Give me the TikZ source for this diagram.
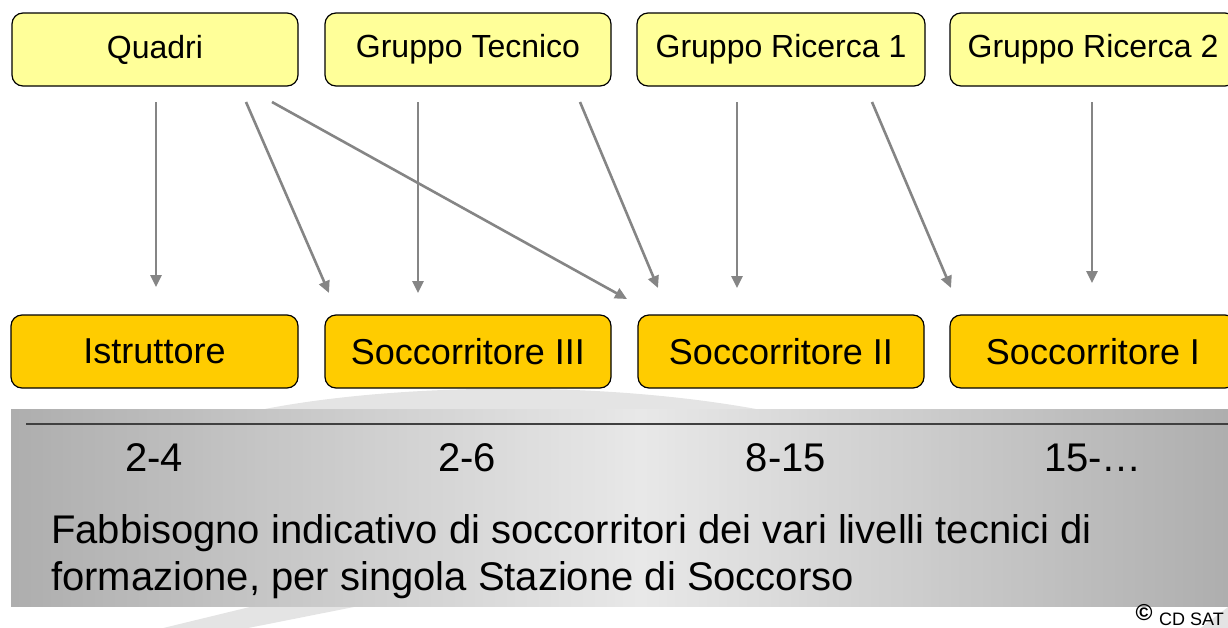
\documentclass[tikz,border=0pt]{standalone}
\usepackage{fontspec}
\setmainfont{Liberation Sans}
\usetikzlibrary{arrows.meta,calc}
\definecolor{topfill}{HTML}{FFFF99}
\definecolor{botfill}{HTML}{FFCC00}
\definecolor{arrgray}{HTML}{858585}
\definecolor{swoosh}{HTML}{E4E4E4}
\definecolor{bandE}{HTML}{AEAEAE}
\definecolor{bandM}{HTML}{E8E8E8}
\definecolor{rulecol}{HTML}{404040}
\tikzset{
  levelbox/.style={draw=black, line width=1.2pt, rounded corners=11pt,
    minimum width=286pt, minimum height=73pt, inner sep=0pt, outer sep=0pt},
  topbox/.style={levelbox, fill=topfill, font=\fontsize{32}{38}\selectfont},
  botbox/.style={levelbox, fill=botfill, font=\fontsize{36}{43}\selectfont},
  arr/.style={draw=arrgray, line width=2.6pt, -{Triangle[length=12pt,width=11pt]}},
  numtxt/.style={anchor=base, inner sep=0pt, font=\fontsize{40}{48}\selectfont},
  bodytxt/.style={anchor=base west, inner sep=0pt, font=\fontsize{40}{48}\selectfont}
}
\begin{document}
\begin{tikzpicture}[x=1pt,y=-1pt]
\useasboundingbox (0,0) rectangle (1228,627);
\clip (0,0) rectangle (1228,627);
% background swoosh
\fill[swoosh] (250,412) .. controls (380,384) and (600,378) .. (772,412) -- cycle;
\fill[swoosh] (258,605) -- (364,605) -- (238,630) -- (155,630) -- cycle;
\fill[swoosh] (1198,630) -- (1232,604) -- (1232,630) -- cycle;
% band (horizontal gradient built from strips)
\foreach \xx in {11,15,...,1227}{
  \pgfmathsetmacro\pp{\xx<640 ? (\xx-11)/629*100 : (1-(\xx-640)/588)*100}
  \fill[bandM!\pp!bandE] (\xx,409) rectangle (\xx+4.6,607);
}
\draw[rulecol, line width=1.6pt] (26,424) -- (1240,424);
% top boxes
\node[topbox] (Q)   at (155,49.5) {Quadri};
\node[topbox] (GT)  at (468,49.5) {Gruppo Tecnico};
\node[topbox, minimum width=288pt] (GR1) at (781,49.5) {Gruppo Ricerca 1};
\node[topbox] (GR2) at (1093,49.5) {Gruppo Ricerca 2};
% bottom boxes
\node[botbox, minimum width=287pt] (IS)  at (154.5,351.5) {Istruttore};
\node[botbox] (S3)  at (468,351.5) {Soccorritore III};
\node[botbox] (S2)  at (781,351.5) {Soccorritore II};
\node[botbox] (S1)  at (1093,351.5) {Soccorritore I};
% arrows
\draw[arr] ($(Q.south)+(1,16)$)    -- ($(IS.north)+(1.5,-28)$);
\draw[arr] ($(Q.south)+(91,16)$)   -- ($(S3.north)+(-139,-22)$);
\draw[arr] ($(Q.south)+(117,16)$)  -- ($(S2.north)+(-154,-16)$);
\draw[arr] ($(GT.south)+(-50,16)$) -- ($(S3.north)+(-50,-22)$);
\draw[arr] ($(GT.south)+(112,16)$) -- ($(S2.north)+(-123,-27)$);
\draw[arr] ($(GR1.south)+(-44,16)$) -- ($(S2.north)+(-44,-27)$);
\draw[arr] ($(GR1.south)+(91,16)$)  -- ($(S1.north)+(-142,-27)$);
\draw[arr] ($(GR2.south)+(-1,16)$)  -- ($(S1.north)+(-1,-32)$);
% numbers
\node[numtxt] (n1) at (154,471) {2-4};
\node[numtxt] (n2) at (467,471) {2-6};
\node[numtxt] (n3) at (786,471) {8-15};
\node[numtxt] (n4) at (1093,471) {15-…};
% description
\node[bodytxt] (d1) at (51,543) {Fabbisogno indicativo di soccorritori dei vari livelli tecnici di};
\node[bodytxt] (d2) at (51,590) {formazione, per singola Stazione di Soccorso};
% copyright
\node[inner sep=0pt, font=\bfseries\fontsize{23}{26}\selectfont] (cp) at (1144,613) {©};
\node[anchor=base west, inner sep=0pt, font=\fontsize{18}{21}\selectfont] (cd) at (1159,625) {CD SAT};
\end{tikzpicture}
\end{document}
